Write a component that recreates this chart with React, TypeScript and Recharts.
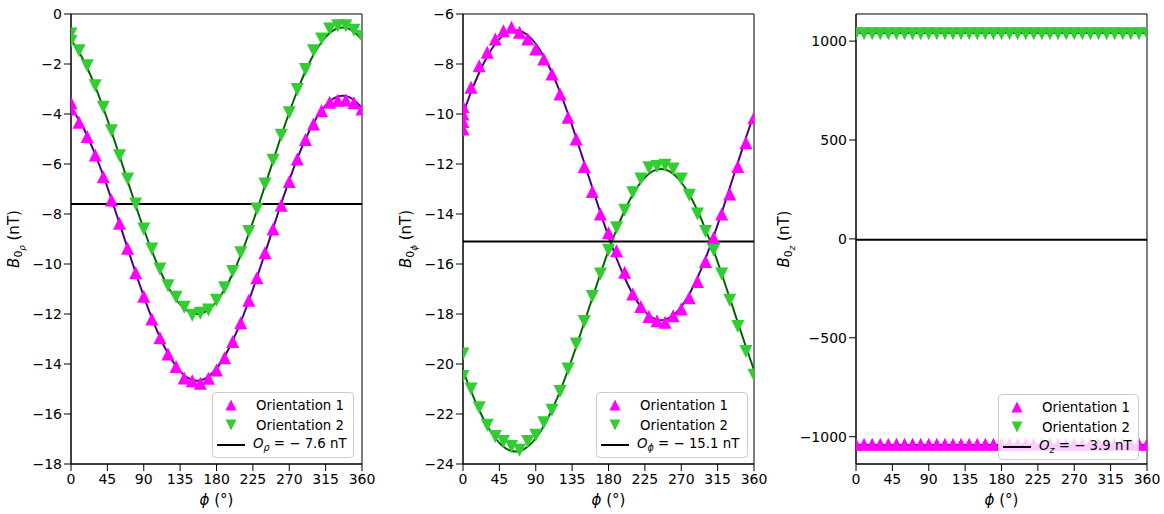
import React from 'react';
import { ComposedChart, Scatter, Line, XAxis, YAxis, ReferenceLine, ReferenceArea, Legend } from 'recharts';

// azimuth of each measurement, degrees
const PHI = [0, 10, 20, 30, 40, 50, 60, 70, 80, 90, 100, 110, 120, 130, 140, 150, 160, 170, 180,
  190, 200, 210, 220, 230, 240, 250, 260, 270, 280, 290, 300, 310, 320, 330, 340, 350, 360];
const X_TICKS = [0, 45, 90, 135, 180, 225, 270, 315, 360];

// B0rho
const RHO_TICKS = [0, -2, -4, -6, -8, -10, -12, -14, -16, -18];
const RHO_O1 = [-3.55, -4.33, -4.9, -5.64, -6.51, -7.44, -8.37, -9.37, -10.35, -11.29, -12.2, -12.95, -13.6,
  -14.1, -14.56, -14.67, -14.77, -14.57, -14.24, -13.75, -13.1, -12.35, -11.45, -10.55, -9.55, -8.6, -7.65,
  -6.7, -5.8, -5.02, -4.4, -3.87, -3.53, -3.45, -3.44, -3.55, -3.8];
const RHO_O2 = [-0.8, -1.47, -2.07, -2.87, -3.73, -4.67, -5.67, -6.6, -7.6, -8.6, -9.4, -10.2, -10.87, -11.33,
  -11.73, -12.05, -11.97, -11.84, -11.45, -10.95, -10.3, -9.55, -8.7, -7.8, -6.8, -5.85, -4.85, -3.95, -3.02,
  -2.22, -1.47, -1.0, -0.6, -0.47, -0.47, -0.65, -0.9];
const RHO_O1_AT_ZERO = [-3.8];
const RHO_O2_AT_ZERO = [-1.1];
const RHO_FIT1 = [-3.76, -4.24, -4.87, -5.62, -6.47, -7.4, -8.37, -9.37, -10.35, -11.29, -12.16, -12.93, -13.58,
  -14.09, -14.45, -14.64, -14.66, -14.5, -14.18, -13.7, -13.07, -12.32, -11.47, -10.54, -9.57, -8.57, -7.59,
  -6.65, -5.78, -5.01, -4.36, -3.85, -3.49, -3.3, -3.28, -3.44, -3.76];
const RHO_FIT2 = [-1.03, -1.52, -2.15, -2.9, -3.76, -4.69, -5.67, -6.67, -7.66, -8.6, -9.47, -10.25, -10.91,
  -11.42, -11.78, -11.97, -11.99, -11.83, -11.51, -11.02, -10.39, -9.64, -8.78, -7.85, -6.87, -5.87, -4.88,
  -3.94, -3.07, -2.29, -1.63, -1.12, -0.76, -0.57, -0.55, -0.71, -1.03];
const RHO_OFFSET = -7.6;

// B0phi
const PHI_TICKS = [-6, -8, -10, -12, -14, -16, -18, -20, -22, -24];
const PHI_O1 = [-9.7, -8.93, -8.07, -7.53, -7.0, -6.67, -6.53, -6.73, -7.0, -7.4, -7.8, -8.4, -9.2, -10.13,
  -11.0, -12.1, -13.1, -14.0, -14.75, -15.47, -16.33, -17.2, -17.7, -18.1, -18.27, -18.33, -18.07, -17.8,
  -17.35, -16.7, -15.9, -14.95, -14.0, -13.2, -12.1, -11.15, -10.15];
const PHI_O2 = [-19.6, -21.0, -21.75, -22.45, -22.9, -23.1, -23.3, -23.45, -23.1, -22.85, -22.35, -21.85,
  -21.1, -20.2, -19.2, -18.3, -17.3, -16.4, -15.45, -14.55, -13.85, -13.15, -12.6, -12.15, -12.1, -12.05,
  -12.2, -12.6, -13.25, -14.0, -14.7, -15.45, -16.4, -17.45, -18.5, -19.5, -20.45];
const PHI_O1_AT_ZERO = [-10.0, -10.3, -10.6];
const PHI_O2_AT_ZERO = [-20.5];
const PHI_FIT1 = [-10.0, -9.12, -8.35, -7.7, -7.19, -6.85, -6.67, -6.67, -6.85, -7.19, -7.7, -8.35, -9.12,
  -10.0, -10.95, -11.95, -12.95, -13.95, -14.9, -15.78, -16.55, -17.2, -17.71, -18.05, -18.23, -18.23, -18.05,
  -17.71, -17.2, -16.55, -15.78, -14.9, -13.95, -12.95, -11.95, -10.95, -10.0];
const PHI_FIT2 = [-20.24, -21.09, -21.84, -22.48, -22.97, -23.31, -23.48, -23.48, -23.31, -22.97, -22.48,
  -21.84, -21.09, -20.24, -19.31, -18.34, -17.36, -16.39, -15.46, -14.61, -13.86, -13.22, -12.73, -12.39,
  -12.22, -12.22, -12.39, -12.73, -13.22, -13.86, -14.61, -15.46, -16.39, -17.36, -18.34, -19.31, -20.24];
const PHI_OFFSET = -15.1;

// B0z
const Z_TICKS = [1000, 500, 0, -500, -1000];
const Z_O1 = [-1038, -1038, -1038, -1038, -1038, -1038, -1038, -1038, -1038, -1038, -1038, -1038, -1038,
  -1038, -1038, -1038, -1038, -1038, -1038, -1038, -1038, -1038, -1038, -1038, -1038, -1038, -1038, -1038,
  -1038, -1038, -1038, -1038, -1038, -1038, -1038, -1038, -1038];
const Z_O2 = [1037, 1037, 1037, 1037, 1037, 1037, 1037, 1037, 1037, 1037, 1037, 1037, 1037, 1037, 1037, 1037,
  1037, 1037, 1037, 1037, 1037, 1037, 1037, 1037, 1037, 1037, 1037, 1037, 1037, 1037, 1037, 1037, 1037, 1037,
  1037, 1037, 1037];
const Z_FIT1 = [-1042, -1042];
const Z_FIT2 = [1041, 1041];
const Z_FIT_PHI = [0, 360];
const Z_OFFSET = -3.9;

const MAGENTA = '#ff00ff';
const LIME = '#32cd32';
const FIT1_COLOR = '#4b0082';
const FIT2_COLOR = '#006400';
const FONT = '"DejaVu Sans", sans-serif';

const FIG_W = 1164;
const FIG_H = 514;
const PLOT_TOP = 14;
const PLOT_H = 450;
const PLOT_W = 291;
const AXIS_W = 75;
const RIGHT_PAD = 20;
const X_AXIS_H = 40;

type Pt = { phi: number; v: number };

const pts = (phi: number[], vals: number[], atZero: number[] = []): Pt[] => [
  ...atZero.map((v) => ({ phi: 0, v })),
  ...vals.map((v, i) => ({ phi: phi[i], v })),
];

const minus = (v: number) => (v < 0 ? `\u2212${Math.abs(v)}` : `${v}`);

const TICK = { fill: '#000', fontSize: 14, fontFamily: FONT };

const triUp = (props: any) => {
  const { cx, cy } = props;
  const s = 6.5;
  return <path d={`M${cx},${cy - s}L${cx - s},${cy + s}L${cx + s},${cy + s}Z`} fill={MAGENTA} />;
};

const triDown = (props: any) => {
  const { cx, cy } = props;
  const s = 6.5;
  return <path d={`M${cx},${cy + s}L${cx - s},${cy - s}L${cx + s},${cy - s}Z`} fill={LIME} />;
};

const LegendBox = ({ width, sub, value }: { width: number; sub: string; value: string }) => {
  const row: React.CSSProperties = { display: 'flex', alignItems: 'center', height: 20 };
  return (
    <div style={{
      width, boxSizing: 'border-box', border: '1px solid #cccccc', borderRadius: 4,
      background: 'rgba(255,255,255,0.8)', padding: '2px 0 2px 4px',
      fontFamily: FONT, fontSize: 13.33, color: '#000', whiteSpace: 'nowrap',
    }}>
      <div style={row}>
        <svg width={28} height={20}><path d="M14,4.5L8.5,15.5L19.5,15.5Z" fill={MAGENTA} /></svg>
        <span style={{ marginLeft: 11 }}>Orientation 1</span>
      </div>
      <div style={row}>
        <svg width={28} height={20}><path d="M14,15.5L8.5,4.5L19.5,4.5Z" fill={LIME} /></svg>
        <span style={{ marginLeft: 11 }}>Orientation 2</span>
      </div>
      <div style={row}>
        <svg width={28} height={20}><line x1={0} x2={28} y1={10} y2={10} stroke="#000" strokeWidth={2} /></svg>
        <span style={{ marginLeft: 8 }}>
          <i>O</i><sub style={{ fontSize: '72%', verticalAlign: '-0.35em' }}><i>{sub}</i></sub>
          {' = \u2212 '}{`${value} nT`}
        </span>
      </div>
    </div>
  );
};

type PanelProps = {
  plotLeft: number;
  o1: Pt[];
  o2: Pt[];
  fit1: Pt[];
  fit2: Pt[];
  offset: number;
  domain: [number, number];
  ticks: number[];
  legendLeft: number;
  legendTop: number;
  legendWidth: number;
  sub: string;
  value: string;
};

function Panel(p: PanelProps) {
  const chartLeft = p.plotLeft - AXIS_W;
  return (
    <div style={{ position: 'absolute', left: chartLeft, top: 0 }}>
      <ComposedChart
        width={AXIS_W + PLOT_W + RIGHT_PAD}
        height={FIG_H}
        margin={{ top: PLOT_TOP, right: RIGHT_PAD, bottom: FIG_H - PLOT_TOP - PLOT_H - X_AXIS_H, left: 0 }}
      >
        <XAxis type="number" dataKey="phi" domain={[0, 360]} ticks={X_TICKS} interval={0} allowDataOverflow
          height={X_AXIS_H} tickSize={7} tickMargin={3} stroke="#000" tick={TICK} />
        <YAxis type="number" dataKey="v" domain={p.domain} ticks={p.ticks} interval={0} allowDataOverflow
          width={AXIS_W} tickSize={7} tickMargin={2} stroke="#000" tick={TICK} tickFormatter={minus} />
        <ReferenceArea x1={0} x2={360} y1={p.domain[0]} y2={p.domain[1]} fill="none" stroke="#000"
          strokeWidth={1} ifOverflow="visible" />
        <Scatter data={p.o1} fill={MAGENTA} shape={triUp} isAnimationActive={false} />
        <Scatter data={p.o2} fill={LIME} shape={triDown} isAnimationActive={false} />
        <Line data={p.fit1} dataKey="v" type="natural" stroke={FIT1_COLOR} strokeWidth={2} dot={false}
          activeDot={false} isAnimationActive={false} />
        <Line data={p.fit2} dataKey="v" type="natural" stroke={FIT2_COLOR} strokeWidth={2} dot={false}
          activeDot={false} isAnimationActive={false} />
        <ReferenceLine y={p.offset} stroke="#000" strokeWidth={2} />
        <Legend layout="horizontal" verticalAlign="middle" align="center"
          wrapperStyle={{ left: p.legendLeft - chartLeft, top: p.legendTop, width: p.legendWidth, height: 'auto' }}
          content={() => <LegendBox width={p.legendWidth} sub={p.sub} value={p.value} />} />
      </ComposedChart>
    </div>
  );
}

const YLabel = ({ x, sub }: { x: number; sub: string }) => (
  <div style={{
    position: 'absolute', left: x, top: PLOT_TOP + PLOT_H / 2, transform: 'translate(-50%,-50%) rotate(-90deg)',
    fontFamily: FONT, fontSize: 15, whiteSpace: 'nowrap', lineHeight: 1,
  }}>
    <i>B</i>
    <sub style={{ fontSize: '72%', verticalAlign: '-0.3em' }}>
      0<sub style={{ fontSize: '80%', verticalAlign: '-0.3em' }}><i>{sub}</i></sub>
    </sub>
    {' (nT)'}
  </div>
);

const XLabel = ({ plotLeft }: { plotLeft: number }) => (
  <div style={{
    position: 'absolute', left: plotLeft + PLOT_W / 2, top: 500, transform: 'translate(-50%,-50%)',
    fontFamily: FONT, fontSize: 15, whiteSpace: 'nowrap', lineHeight: 1,
  }}>
    <i>{'\u03d5'}</i>{' (\u00b0)'}
  </div>
);

export default function App() {
  const panels: PanelProps[] = [
    {
      plotLeft: 71,
      o1: pts(PHI, RHO_O1, RHO_O1_AT_ZERO),
      o2: pts(PHI, RHO_O2, RHO_O2_AT_ZERO),
      fit1: pts(PHI, RHO_FIT1),
      fit2: pts(PHI, RHO_FIT2),
      offset: RHO_OFFSET,
      domain: [-18, 0],
      ticks: RHO_TICKS,
      legendLeft: 212, legendTop: 392, legendWidth: 142,
      sub: '\u03c1', value: '7.6',
    },
    {
      plotLeft: 463,
      o1: pts(PHI, PHI_O1, PHI_O1_AT_ZERO),
      o2: pts(PHI, PHI_O2, PHI_O2_AT_ZERO),
      fit1: pts(PHI, PHI_FIT1),
      fit2: pts(PHI, PHI_FIT2),
      offset: PHI_OFFSET,
      domain: [-24, -6],
      ticks: PHI_TICKS,
      legendLeft: 596, legendTop: 392, legendWidth: 152,
      sub: '\u03d5', value: '15.1',
    },
    {
      plotLeft: 856,
      o1: pts(PHI, Z_O1),
      o2: pts(PHI, Z_O2),
      fit1: pts(Z_FIT_PHI, Z_FIT1),
      fit2: pts(Z_FIT_PHI, Z_FIT2),
      offset: Z_OFFSET,
      domain: [-1138, 1137],
      ticks: Z_TICKS,
      legendLeft: 998, legendTop: 394, legendWidth: 141,
      sub: 'z', value: '3.9',
    },
  ];
  const yLabelX = [17, 409, 787];

  return (
    <div style={{ position: 'absolute', left: 0, top: 0, width: FIG_W, height: FIG_H, background: '#fff', overflow: 'hidden' }}>
      {panels.map((p, i) => (
        <React.Fragment key={i}>
          <Panel {...p} />
          <YLabel x={yLabelX[i]} sub={p.sub} />
          <XLabel plotLeft={p.plotLeft} />
        </React.Fragment>
      ))}
    </div>
  );
}
